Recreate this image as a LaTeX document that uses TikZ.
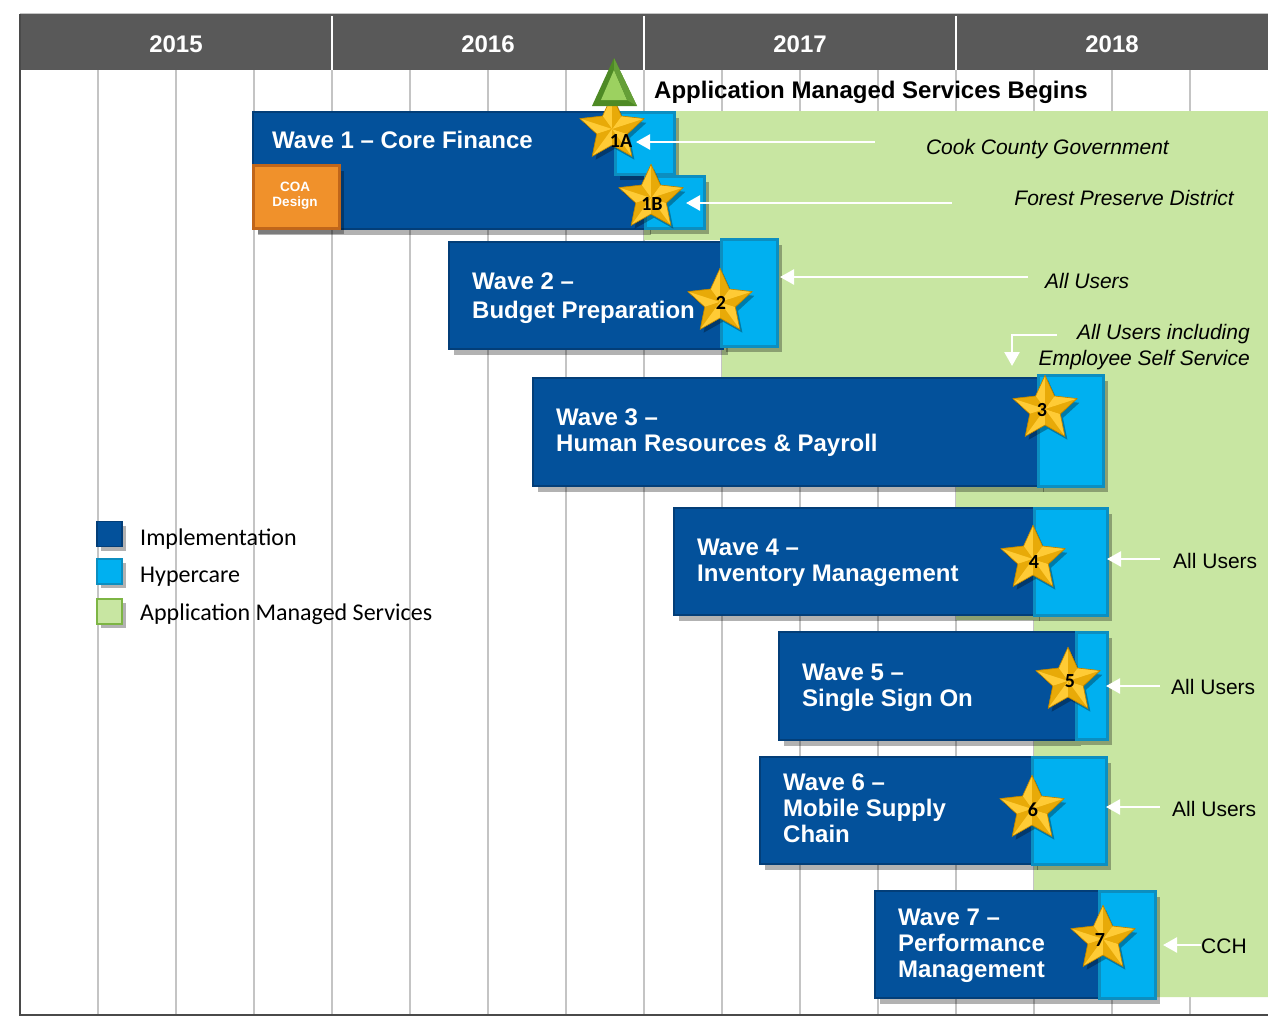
\documentclass[tikz,border=0pt]{standalone}
\usepackage{fontspec}
\setmainfont{Liberation Sans}
\newfontfamily\calib{Carlito}
\usetikzlibrary{shapes.geometric,arrows.meta,shadows}
\definecolor{hdr}{HTML}{595959}
\definecolor{impl}{HTML}{03519B}
\definecolor{implB}{HTML}{033E78}
\definecolor{hyper}{HTML}{00B0F0}
\definecolor{hyperB}{HTML}{0C8EC0}
\definecolor{ams}{HTML}{C8E6A2}
\definecolor{amsB}{HTML}{7DB544}
\definecolor{gridc}{HTML}{C4C4C4}
\definecolor{goldL}{HTML}{FFCB35}
\definecolor{goldD}{HTML}{E8AA08}
\definecolor{goldE}{HTML}{B98200}
\definecolor{coa}{HTML}{F0912B}
\definecolor{coaB}{HTML}{C0661A}
\definecolor{pyrD}{HTML}{4E8A25}
\definecolor{pyrL}{HTML}{9CD160}
\definecolor{frame}{HTML}{4A4A4A}
\tikzset{
  boxshadow/.style={drop shadow={shadow xshift=5pt,shadow yshift=-6pt,opacity=0.3,fill=black}},
  implbox/.style={rectangle,anchor=north west,inner sep=0,fill=impl,draw=implB,line width=2pt,boxshadow},
  hyperbox/.style={rectangle,anchor=north west,inner sep=0,fill=hyper,draw=hyperB,line width=2.5pt,boxshadow},
  coabox/.style={rectangle,anchor=north west,inner sep=0,fill=coa,draw=coaB,line width=2.5pt,boxshadow},
  goldstar/.style={star,star points=5,star point ratio=2.1,minimum size=66pt,inner sep=0,fill=goldD,draw=goldE,line width=0.6pt,drop shadow={shadow xshift=3pt,shadow yshift=-4pt,opacity=0.3,fill=black}},
  starlbl/.style={font=\calib\fontsize{20}{22}\selectfont\bfseries,text=black,inner sep=0},
  wavetxt/.style={anchor=base west,inner sep=0,text=white,font=\fontsize{24}{26}\selectfont\bfseries},
  yrtxt/.style={anchor=base,inner sep=0,text=white,font=\fontsize{24}{26}\selectfont\bfseries},
  ittxt/.style={inner sep=0,text=black,font=\fontsize{21}{24}\selectfont\itshape},
  rttxt/.style={anchor=base west,inner sep=0,text=black,font=\fontsize{21}{24}\selectfont},
  legsq/.style={rectangle,minimum size=25pt,inner sep=0,line width=1.5pt,drop shadow={shadow xshift=4pt,shadow yshift=-4pt,opacity=0.3,fill=black}},
  legtxt/.style={anchor=base west,inner sep=0,text=black,font=\calib\fontsize{24}{26}\selectfont},
  arr/.style={draw=white,line width=2.5pt,-{Triangle[length=14pt,width=15pt]}},
  gridl/.style={draw=gridc,line width=2pt}
}
\newcommand{\starfacets}[1]{%
  \foreach \i in {1,...,5}{%
    \pgfmathtruncatemacro\jj{mod(\i,5)+1}%
    \fill[goldL] (#1.center) -- (#1.outer point \i) -- (#1.inner point \i) -- cycle;
    \fill[goldD] (#1.center) -- (#1.inner point \i) -- (#1.outer point \jj) -- cycle;
  }%
  \draw[goldE,line width=0.6pt] (#1.outer point 1) -- (#1.inner point 1) -- (#1.outer point 2) -- (#1.inner point 2) -- (#1.outer point 3) -- (#1.inner point 3) -- (#1.outer point 4) -- (#1.inner point 4) -- (#1.outer point 5) -- (#1.inner point 5) -- cycle;
}
\begin{document}
\begin{tikzpicture}[x=1pt,y=-1pt]
\useasboundingbox (0,0) rectangle (1268,1017);
\fill[white] (0,0) rectangle (1268,1017);
% grid
\foreach \x in {98,176,254,332,410,488,566,644,722,800,878,956,1034,1112,1190}
  \draw[gridl] (\x,70) -- (\x,1015);
% AMS region
\fill[ams] (644,111) -- (1268,111) -- (1268,997) -- (1034,997) -- (1034,620) -- (956,620) -- (956,485) -- (722,485) -- (722,240) -- (644,240) -- cycle;
% header
\fill[hdr] (20,14) rectangle (1268,70);
\draw[gridc,line width=1pt] (20,13.5) -- (1268,13.5);
\foreach \x in {332,644,956} \draw[white,line width=2pt] (\x,16) -- (\x,70);
\node[yrtxt] (y15) at (176,52) {2015};
\node[yrtxt] (y16) at (488,52) {2016};
\node[yrtxt] (y17) at (800,52) {2017};
\node[yrtxt] (y18) at (1112,52) {2018};
% frame
\draw[frame,line width=2pt] (20,14) -- (20,1015) -- (1268,1015);
% legend
\node[legsq,fill=impl,draw=implB] (lg1) at (109.5,534) {};
\node[legsq,fill=hyper,draw=hyperB] (lg2) at (109.5,571.5) {};
\node[legsq,fill=ams,draw=amsB] (lg3) at (109.5,611.5) {};
\node[legtxt] (lt1) at (140,545) {Implementation};
\node[legtxt] (lt2) at (140,582) {Hypercare};
\node[legtxt] (lt3) at (140,620) {Application Managed Services};
% milestone title
\node[anchor=base west,inner sep=0,text=black,font=\fontsize{24}{26}\selectfont\bfseries] (amsb) at (654,98) {Application Managed Services Begins};
% wave 1
\node[implbox,minimum width=393pt,minimum height=117pt] (w1) at (252,111) {};
\node[coabox,minimum width=86pt,minimum height=63pt] (coa) at (252,164) {};
\node[align=center,inner sep=0,text=white,font=\fontsize{13.5}{15}\selectfont\bfseries] (coat) at (295,195.5) {COA\\Design};
\node[wavetxt] (w1t) at (272,148) {Wave 1 -- Core Finance};
\node[hyperbox,minimum width=59pt,minimum height=62pt] (h1a) at (614,111) {};
\node[goldstar] (s1a) at (612,129) {};
\starfacets{s1a}
\node[starlbl] (l1a) at (621,141) {1A};
\node[hyperbox,minimum width=59pt,minimum height=52pt] (h1b) at (644,175) {};
\node[goldstar] (s1b) at (651,198) {};
\starfacets{s1b}
\node[starlbl] (l1b) at (652,204) {1B};
% pyramid
\fill[pyrD] (614,58) -- (592,106) -- (637,106) -- cycle;
\fill[pyrL] (614,70) -- (601,100) -- (627,100) -- cycle;
\fill[pyrD!70!pyrL] (614,70) -- (627,100) -- (637,106) -- (614,58) -- cycle;
% wave 2
\node[implbox,minimum width=274pt,minimum height=107pt] (w2) at (448,241) {};
\node[hyperbox,minimum width=56pt,minimum height=107pt] (h2) at (720,238) {};
\node[wavetxt] (w2a) at (472,289) {Wave 2 --};
\node[wavetxt] (w2b) at (472,318) {Budget Preparation};
\node[goldstar] (s2) at (720,302) {};
\starfacets{s2}
\node[starlbl] (l2) at (721,303) {2};
% wave 3
\node[implbox,minimum width=506pt,minimum height=108pt] (w3) at (532,377) {};
\node[hyperbox,minimum width=65pt,minimum height=111pt] (h3) at (1037,374) {};
\node[wavetxt] (w3a) at (556,425) {Wave 3 --};
\node[wavetxt] (w3b) at (556,451) {Human Resources \& Payroll};
\node[goldstar] (s3) at (1045,409) {};
\starfacets{s3}
\node[starlbl] (l3) at (1042,410) {3};
% wave 4
\node[implbox,minimum width=361pt,minimum height=107pt] (w4) at (673,507) {};
\node[hyperbox,minimum width=73pt,minimum height=107pt] (h4) at (1033,507) {};
\node[wavetxt] (w4a) at (697,555) {Wave 4 --};
\node[wavetxt] (w4b) at (697,581) {Inventory Management};
\node[goldstar] (s4) at (1033,559) {};
\starfacets{s4}
\node[starlbl] (l4) at (1034,562) {4};
% wave 5
\node[implbox,minimum width=297pt,minimum height=108pt] (w5) at (778,631) {};
\node[hyperbox,minimum width=31pt,minimum height=107pt] (h5) at (1075,631) {};
\node[wavetxt] (w5a) at (802,680) {Wave 5 --};
\node[wavetxt] (w5b) at (802,706) {Single Sign On};
\node[goldstar] (s5) at (1068,681) {};
\starfacets{s5}
\node[starlbl] (l5) at (1070,681) {5};
% wave 6
\node[implbox,minimum width=273pt,minimum height=107pt] (w6) at (759,756) {};
\node[hyperbox,minimum width=74pt,minimum height=107pt] (h6) at (1031,756) {};
\node[wavetxt] (w6a) at (783,790) {Wave 6 --};
\node[wavetxt] (w6b) at (783,816) {Mobile Supply};
\node[wavetxt] (w6c) at (783,842) {Chain};
\node[goldstar] (s6) at (1032,809) {};
\starfacets{s6}
\node[starlbl] (l6) at (1033,810) {6};
% wave 7
\node[implbox,minimum width=224pt,minimum height=107pt] (w7) at (874,890) {};
\node[hyperbox,minimum width=56pt,minimum height=107pt] (h7) at (1098,890) {};
\node[wavetxt] (w7a) at (898,925) {Wave 7 --};
\node[wavetxt] (w7b) at (898,951) {Performance};
\node[wavetxt] (w7c) at (898,977) {Management};
\node[goldstar] (s7) at (1103,939) {};
\starfacets{s7}
\node[starlbl] (l7) at (1100,940) {7};
% annotations
\node[ittxt,anchor=base east] (t1) at (1169,154) {Cook County Government};
\node[ittxt,anchor=base east] (t2) at (1234,205) {Forest Preserve District};
\node[ittxt,anchor=base west] (t3) at (1045,288) {All Users};
\node[ittxt,anchor=base east] (t4a) at (1250,339) {All Users including};
\node[ittxt,anchor=base east] (t4b) at (1250,365) {Employee Self Service};
\node[rttxt] (t5) at (1173,568) {All Users};
\node[rttxt] (t6) at (1171,694) {All Users};
\node[rttxt] (t7) at (1172,816) {All Users};
\node[rttxt] (t8) at (1201,953) {CCH};
% arrows
\coordinate (a1s) at (875,142); \coordinate (a1e) at (636,142);
\coordinate (a2s) at (952,203); \coordinate (a2e) at (686,203);
\coordinate (a3s) at (1028,277); \coordinate (a3e) at (780,277);
\coordinate (a4s) at (1057,335); \coordinate (a4m) at (1012,335); \coordinate (a4e) at (1012,366);
\coordinate (a5s) at (1160,559); \coordinate (a5e) at (1107,559);
\coordinate (a6s) at (1160,686); \coordinate (a6e) at (1106,686);
\coordinate (a7s) at (1160,807); \coordinate (a7e) at (1106,807);
\coordinate (a8s) at (1201,945); \coordinate (a8e) at (1163,945);
\draw[arr] (a1s) -- (a1e);
\draw[arr] (a2s) -- (a2e);
\draw[arr] (a3s) -- (a3e);
\draw[arr] (a4s) -- (a4m) -- (a4e);
\draw[arr] (a5s) -- (a5e);
\draw[arr] (a6s) -- (a6e);
\draw[arr] (a7s) -- (a7e);
\draw[arr] (a8s) -- (a8e);
\end{tikzpicture}
\end{document}
